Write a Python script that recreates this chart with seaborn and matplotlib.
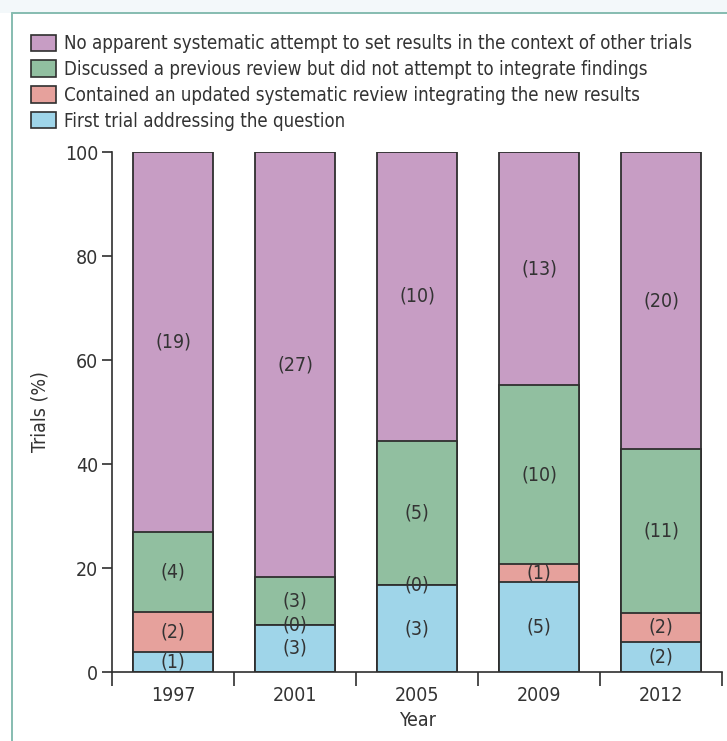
import numpy as np
import pandas as pd
import matplotlib.pyplot as plt
from matplotlib.patches import Patch, Rectangle
from matplotlib.lines import Line2D
from matplotlib.ticker import FixedLocator
import seaborn as sns

# counts of trials per year
years = ["1997", "2001", "2005", "2009", "2012"]
first_trial = [1, 3, 3, 5, 2]
updated_review = [2, 0, 0, 1, 2]
discussed_review = [4, 3, 5, 10, 11]
no_attempt = [19, 27, 10, 13, 20]

categories = [
    "No apparent systematic attempt to set results in the context of other trials",
    "Discussed a previous review but did not attempt to integrate findings",
    "Contained an updated systematic review integrating the new results",
    "First trial addressing the question",
]
colors = ["#c79dc4", "#91bfa0", "#e6a19c", "#9fd5e9"]
edge = "#2f2f2f"
text_col = "#333333"

sns.set_style("white")
plt.rcParams["font.family"] = ["DejaVu Sans"]
plt.rcParams["font.stretch"] = "condensed"
fs = 14

# stack order bottom -> top
layers = [first_trial, updated_review, discussed_review, no_attempt]
counts = np.array(layers, dtype=float)
totals = counts.sum(axis=0)
pct = counts / totals * 100
cum = np.cumsum(pct, axis=0)
df = pd.DataFrame({"year": years})
for i in range(4):
    df[f"top{i}"] = cum[i]

fig = plt.figure(figsize=(7.27, 7.41), dpi=100)
ax = fig.add_axes([112 / 727, 1 - 672 / 741, 610 / 727, 520 / 741])

# outer frame of the figure panel
fig.patches.append(Rectangle((0, 1 - 13 / 741), 1, 13 / 741, transform=fig.transFigure,
                             facecolor="#f3f8fa", edgecolor="none", zorder=0))
fig.add_artist(Line2D([12 / 727, 1], [1 - 13 / 741, 1 - 13 / 741], color="#86bcb0", lw=1.4))
fig.add_artist(Line2D([12 / 727, 12 / 727], [0, 1 - 13 / 741], color="#86bcb0", lw=1.4))

# draw cumulative heights from top layer down so lower layers overlay
for i in [3, 2, 1, 0]:
    sns.barplot(data=df, x="year", y=f"top{i}", color=colors[::-1][i], width=0.655,
                edgecolor=edge, linewidth=1.3, saturation=1, ax=ax, zorder=2)

# count labels centred in each segment
for j in range(len(years)):
    bottom = 0
    for i in range(4):
        top = cum[i, j]
        ax.text(j, (bottom + top) / 2, f"({int(counts[i, j])})", ha="center", va="center",
                color=text_col, fontsize=fs, zorder=5)
        bottom = top

ax.set_xlim(-0.5, 4.5)
ax.set_ylim(0, 100)
ax.set_yticks([0, 20, 40, 60, 80, 100])
ax.tick_params(axis="y", direction="out", length=7, width=1.2, color=edge, labelcolor=text_col,
               pad=3, left=True, labelsize=fs)
ax.tick_params(axis="x", which="major", length=0, pad=10, labelcolor=text_col, labelsize=fs)
ax.xaxis.set_minor_locator(FixedLocator(np.arange(-0.5, 5, 1)))
ax.tick_params(axis="x", which="minor", direction="out", length=10, width=1.2, color=edge,
               bottom=True)
sns.despine(ax=ax)
for s in ["left", "bottom"]:
    ax.spines[s].set_color(edge)
    ax.spines[s].set_linewidth(1.2)

ax.set_xlabel("Year", color=text_col, fontsize=fs)
ax.set_ylabel("Trials (%)", color=text_col, fontsize=fs)
ax.xaxis.set_label_coords(0.5, -0.075)
ax.yaxis.set_label_coords(-0.103, 0.5)

handles = [Patch(facecolor=c, edgecolor=edge, linewidth=1.2) for c in colors]
fig.legend(handles, categories, loc="upper left", bbox_to_anchor=(24 / 727, 1 - 27 / 741),
           frameon=False, fontsize=13.4, handlelength=1.3, handleheight=1.0,
           handletextpad=0.45, labelspacing=0.36, borderaxespad=0, labelcolor=text_col)

fig.savefig("out.png", dpi=100, facecolor="white")
